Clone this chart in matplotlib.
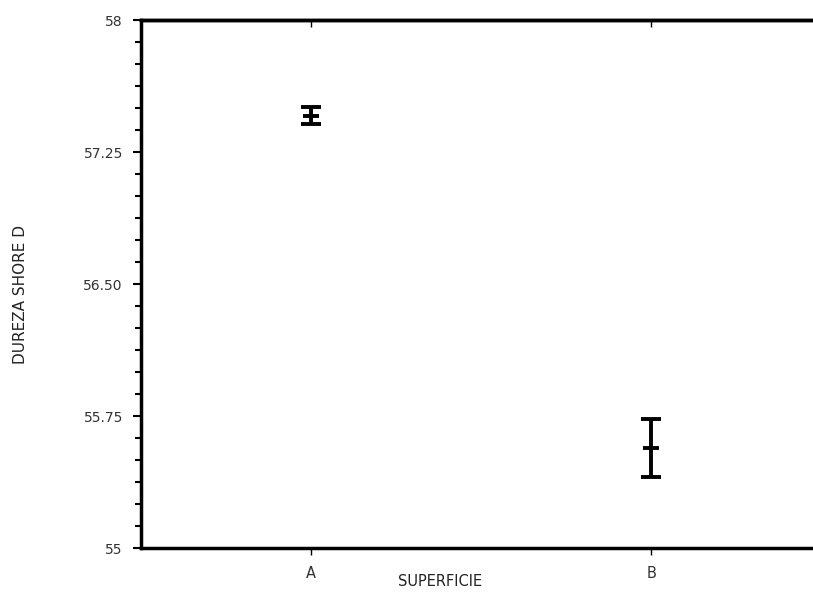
import numpy as np
import matplotlib.pyplot as plt
from matplotlib.ticker import MultipleLocator

# datos
superficie = ['A', 'B']
media = [57.455, 55.568]
error = [0.048, 0.165]
yticks = [55, 55.75, 56.50, 57.25, 58]
ytick_labels = ['55', '55.75', '56.50', '57.25', '58']

fig = plt.figure(figsize=(8.13, 5.92), dpi=100)
ax = fig.add_axes([0.1734, 0.0743, 0.8266, 0.8919])

x = np.arange(len(superficie))
ax.errorbar(x, media, yerr=error, fmt='none', ecolor='black',
            elinewidth=2.8, capsize=7, capthick=2.8)
ax.plot(x, media, linestyle='none', marker='_', markersize=11,
        markeredgewidth=2.8, color='black')

ax.set_xlim(-0.5, 1.475)
ax.set_ylim(55, 58)
ax.set_xticks(x)
ax.set_xticklabels(superficie)
ax.set_yticks(yticks)
ax.set_yticklabels(ytick_labels)
ax.yaxis.set_minor_locator(MultipleLocator(0.125))

for s in ['left', 'bottom', 'top']:
    ax.spines[s].set_linewidth(2.5)
ax.spines['right'].set_visible(False)

ax.tick_params(axis='y', which='major', direction='out', length=6, width=1.5,
               labelsize=10, labelcolor='#333333', pad=7)
ax.tick_params(axis='y', which='minor', direction='out', length=4, width=1.5)
ax.tick_params(axis='x', direction='out', length=5, width=1,
               labelsize=10.5, labelcolor='#333333', pad=8)

top = ax.secondary_xaxis('top')
top.set_xticks(x)
top.set_xticklabels([])
top.tick_params(direction='in', length=5, width=1)
top.spines['top'].set_linewidth(2.5)

ax.set_xlabel('SUPERFICIE', fontsize=10.5, color='#222222', va='center')
ax.xaxis.set_label_coords(0.445, -0.064)
ax.set_ylabel('DUREZA SHORE D', fontsize=11, color='#222222', va='center')
ax.yaxis.set_label_coords(-0.18, 0.48)

plt.savefig('out.png', dpi=100)
